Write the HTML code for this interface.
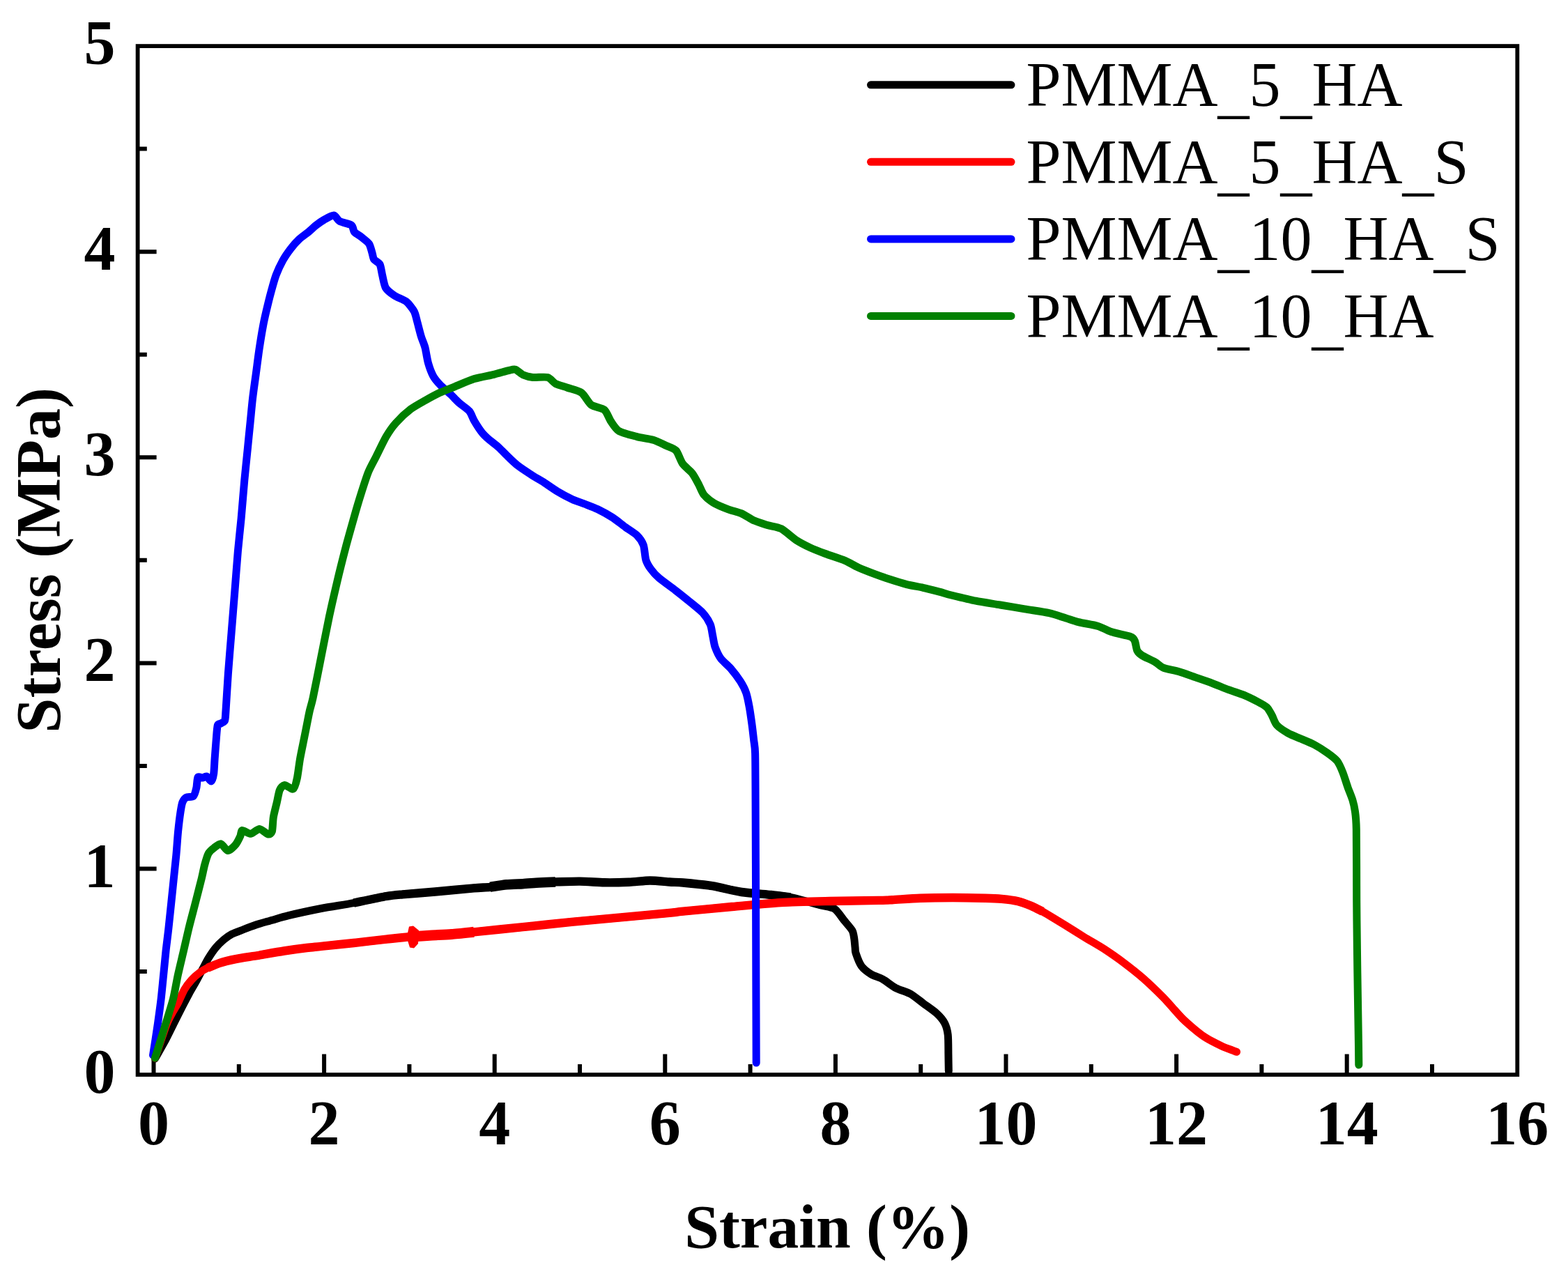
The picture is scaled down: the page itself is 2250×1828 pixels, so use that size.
<!DOCTYPE html>
<html lang="en"><head><meta charset="utf-8"><title>Stress–strain curves</title>
<style>html,body{margin:0;padding:0;background:#fff;}body{width:2250px;height:1828px;overflow:hidden;}svg{display:block;}text{font-family:"Liberation Serif",serif;fill:#000;}.b{font-weight:bold;}</style></head><body>
<svg width="2250" height="1828" viewBox="0 0 2250 1828">
<rect width="2250" height="1828" fill="#fff"/>
<g stroke="#000" stroke-width="6.0" fill="none" stroke-linecap="butt">
<path d="M220.5,1542.0 V1512.4 M342.8,1542.0 V1527.0 M465.1,1542.0 V1512.4 M587.4,1542.0 V1527.0 M709.7,1542.0 V1512.4 M832.0,1542.0 V1527.0 M954.3,1542.0 V1512.4 M1076.6,1542.0 V1527.0 M1198.9,1542.0 V1512.4 M1321.2,1542.0 V1527.0 M1443.5,1542.0 V1512.4 M1565.8,1542.0 V1527.0 M1688.1,1542.0 V1512.4 M1810.4,1542.0 V1527.0 M1932.7,1542.0 V1512.4 M2055.0,1542.0 V1527.0 M197.6,1394.0 H210.8 M197.6,1246.5 H224.6 M197.6,1098.9 H210.8 M197.6,951.4 H224.6 M197.6,803.8 H210.8 M197.6,656.3 H224.6 M197.6,508.7 H210.8 M197.6,361.2 H224.6 M197.6,213.6 H210.8"/>
</g>
<g fill="none" stroke-width="11.0" stroke-linejoin="round" stroke-linecap="round">
<path stroke="#000" d="M222.5,1519.0C224.4,1515.5 234.6,1497.6 238.0,1491.3C241.4,1485.0 246.6,1474.0 249.5,1468.2C252.4,1462.4 258.4,1450.5 261.1,1445.2C263.8,1439.9 269.0,1430.1 271.4,1425.6C273.8,1421.1 278.2,1414.0 280.6,1409.5C283.1,1405.0 288.7,1394.2 291.0,1389.9C293.3,1385.6 296.8,1378.6 299.1,1374.9C301.4,1371.2 306.7,1363.3 309.4,1360.0C312.1,1356.7 318.1,1350.9 321.0,1348.4C323.9,1346.0 328.9,1342.3 332.5,1340.4C336.1,1338.5 345.5,1335.2 349.8,1333.5C354.1,1331.8 362.1,1328.7 367.2,1327.0C372.3,1325.3 384.8,1321.9 390.6,1320.2C396.5,1318.5 405.2,1315.7 414.0,1313.6C422.8,1311.5 449.1,1305.8 460.8,1303.5C472.5,1301.2 495.9,1297.8 507.6,1295.6C519.3,1293.4 545.6,1287.5 554.4,1286.0C563.2,1284.5 569.0,1284.1 577.8,1283.3C586.6,1282.5 611.7,1280.6 624.5,1279.5C637.3,1278.4 670.1,1275.1 680.0,1274.3C689.9,1273.5 697.5,1273.4 703.4,1272.8C709.2,1272.2 720.9,1269.9 726.8,1269.3C732.6,1268.7 744.4,1268.5 750.2,1268.2C756.1,1267.9 767.8,1266.8 773.6,1266.5C779.5,1266.2 789.7,1265.6 797.0,1265.4C804.3,1265.2 823.3,1264.5 832.1,1264.6C840.9,1264.7 858.4,1266.1 867.2,1266.3C876.0,1266.5 894.1,1266.1 902.3,1265.8C910.5,1265.5 925.4,1263.5 932.7,1263.5C940.0,1263.5 954.9,1265.1 960.8,1265.5C966.7,1265.9 972.4,1265.8 980.0,1266.5C987.6,1267.2 1011.5,1269.5 1022.0,1271.2C1032.5,1272.9 1053.7,1278.4 1064.2,1280.0C1074.8,1281.6 1097.6,1283.0 1106.4,1283.9C1115.2,1284.8 1125.6,1285.6 1134.4,1287.4C1143.2,1289.2 1168.6,1296.5 1176.5,1298.6C1184.4,1300.7 1193.2,1301.4 1197.6,1304.2C1202.0,1307.0 1208.4,1317.2 1211.6,1321.1C1214.8,1325.0 1221.1,1331.9 1222.9,1335.1C1224.7,1338.3 1225.2,1343.3 1225.7,1346.4C1226.2,1349.5 1226.8,1357.3 1227.1,1360.0C1227.4,1362.7 1226.9,1364.3 1228.0,1367.6C1229.1,1370.9 1233.4,1382.5 1236.2,1386.3C1239.0,1390.1 1246.4,1395.7 1250.2,1398.0C1254.0,1400.3 1262.2,1402.5 1266.6,1405.0C1271.0,1407.5 1280.3,1415.0 1285.3,1417.6C1290.3,1420.2 1301.3,1423.2 1306.3,1426.0C1311.3,1428.8 1320.4,1436.3 1325.1,1439.8C1329.8,1443.3 1340.0,1450.3 1343.8,1453.8C1347.6,1457.3 1353.5,1464.2 1355.5,1468.0C1357.5,1471.8 1359.5,1479.0 1360.2,1484.6C1360.9,1490.2 1360.8,1506.2 1360.9,1512.7C1361.0,1519.2 1361.2,1534.0 1361.3,1537.0"/>
<path stroke="#000" stroke-width="12.4" stroke-linecap="butt" d="M507.6,1295.6C513.5,1294.4 545.6,1287.5 554.4,1286.0C563.2,1284.5 569.0,1284.1 577.8,1283.3C586.6,1282.5 611.7,1280.6 624.5,1279.5C637.3,1278.4 670.1,1275.1 680.0,1274.3C689.9,1273.5 697.5,1273.4 703.4,1272.8C709.2,1272.2 720.9,1269.9 726.8,1269.3C732.6,1268.7 744.4,1268.5 750.2,1268.2C756.1,1267.9 767.8,1266.8 773.6,1266.5C779.5,1266.2 789.7,1265.6 797.0,1265.4C804.3,1265.2 823.3,1264.5 832.1,1264.6C840.9,1264.7 858.4,1266.1 867.2,1266.3C876.0,1266.5 894.1,1266.1 902.3,1265.8C910.5,1265.5 925.4,1263.5 932.7,1263.5C940.0,1263.5 954.9,1265.1 960.8,1265.5C966.7,1265.9 972.4,1265.8 980.0,1266.5C987.6,1267.2 1011.5,1269.5 1022.0,1271.2C1032.5,1272.9 1053.7,1278.4 1064.2,1280.0C1074.8,1281.6 1097.6,1283.0 1106.4,1283.9C1115.2,1284.8 1130.9,1287.0 1134.4,1287.4"/>
<path stroke="#000" stroke-width="14.5" stroke-linecap="butt" d="M703.4,1272.8C706.3,1272.4 720.9,1269.9 726.8,1269.3C732.6,1268.7 744.4,1268.5 750.2,1268.2C756.1,1267.9 767.8,1266.8 773.6,1266.5C779.5,1266.2 794.1,1265.5 797.0,1265.4"/>
<path stroke="#f00" d="M222.5,1518.0C224.6,1512.0 235.8,1478.2 239.0,1470.0C242.2,1461.8 246.0,1455.8 248.0,1452.0C250.0,1448.2 253.2,1443.4 255.3,1439.4C257.4,1435.4 262.1,1424.1 264.5,1419.9C266.9,1415.7 272.2,1409.0 274.9,1406.0C277.6,1403.0 283.5,1397.9 286.4,1395.7C289.3,1393.5 294.3,1390.5 297.9,1388.8C301.5,1387.1 310.2,1383.4 315.2,1381.8C320.2,1380.2 331.0,1377.5 338.2,1376.1C345.4,1374.7 364.2,1372.0 372.8,1370.5C381.4,1369.0 399.0,1365.8 407.4,1364.5C415.8,1363.2 433.3,1360.8 440.0,1360.0C446.7,1359.2 452.4,1358.7 460.8,1357.8C469.2,1356.9 495.9,1354.3 507.6,1353.0C519.3,1351.7 544.2,1348.8 554.4,1347.7C564.6,1346.6 581.3,1344.7 589.5,1344.0C597.7,1343.3 612.7,1342.4 620.0,1342.0C627.3,1341.6 640.5,1341.1 648.0,1340.5C655.5,1339.9 667.2,1338.6 680.0,1337.3C692.8,1336.0 732.7,1332.0 750.2,1330.2C767.8,1328.4 802.9,1324.5 820.4,1322.8C837.9,1321.1 873.1,1318.0 890.6,1316.4C908.1,1314.8 949.6,1311.0 960.8,1309.9C972.0,1308.8 968.8,1308.8 980.0,1307.7C991.2,1306.6 1032.7,1302.6 1050.2,1301.0C1067.8,1299.4 1102.9,1296.1 1120.4,1295.1C1138.0,1294.1 1173.0,1293.4 1190.6,1293.0C1208.1,1292.6 1249.6,1292.1 1260.8,1291.9C1272.0,1291.7 1272.5,1291.6 1280.0,1291.2C1287.5,1290.8 1309.5,1289.1 1320.4,1288.7C1331.3,1288.3 1355.5,1288.0 1367.2,1288.0C1378.9,1288.0 1405.2,1288.5 1414.0,1288.7C1422.8,1288.9 1431.6,1289.3 1437.4,1289.9C1443.2,1290.5 1455.5,1292.0 1460.8,1293.2C1466.1,1294.4 1475.1,1297.9 1479.5,1299.7C1483.9,1301.5 1489.8,1304.5 1495.9,1307.9C1502.0,1311.4 1520.6,1322.7 1528.1,1327.3C1535.6,1331.9 1549.2,1340.5 1556.2,1344.8C1563.2,1349.1 1577.4,1357.1 1584.4,1361.7C1591.4,1366.3 1605.5,1376.1 1612.5,1381.4C1619.5,1386.7 1633.6,1397.8 1640.6,1403.9C1647.6,1410.1 1663.4,1425.3 1668.7,1430.6C1674.0,1435.9 1679.3,1442.2 1682.8,1446.1C1686.3,1450.0 1693.3,1458.0 1696.8,1461.5C1700.3,1465.0 1707.4,1471.2 1710.9,1474.2C1714.4,1477.2 1721.5,1482.9 1725.0,1485.4C1728.5,1487.9 1735.5,1492.0 1739.0,1493.9C1742.5,1495.8 1749.6,1499.3 1753.1,1500.9C1756.6,1502.5 1764.4,1505.5 1767.1,1506.5C1769.8,1507.5 1773.6,1509.0 1774.5,1509.3"/>
<path stroke="#f00" stroke-width="12.4" stroke-linecap="butt" d="M297.9,1388.8C300.1,1387.9 310.2,1383.4 315.2,1381.8C320.2,1380.2 331.0,1377.5 338.2,1376.1C345.4,1374.7 364.2,1372.0 372.8,1370.5C381.4,1369.0 399.0,1365.8 407.4,1364.5C415.8,1363.2 433.3,1360.8 440.0,1360.0C446.7,1359.2 452.4,1358.7 460.8,1357.8C469.2,1356.9 495.9,1354.3 507.6,1353.0C519.3,1351.7 544.2,1348.8 554.4,1347.7C564.6,1346.6 581.3,1344.7 589.5,1344.0C597.7,1343.3 612.7,1342.4 620.0,1342.0C627.3,1341.6 640.5,1341.1 648.0,1340.5C655.5,1339.9 667.2,1338.6 680.0,1337.3C692.8,1336.0 732.7,1332.0 750.2,1330.2C767.8,1328.4 802.9,1324.5 820.4,1322.8C837.9,1321.1 873.1,1318.0 890.6,1316.4C908.1,1314.8 949.6,1311.0 960.8,1309.9C972.0,1308.8 968.8,1308.8 980.0,1307.7C991.2,1306.6 1032.7,1302.6 1050.2,1301.0C1067.8,1299.4 1102.9,1296.1 1120.4,1295.1C1138.0,1294.1 1173.0,1293.4 1190.6,1293.0C1208.1,1292.6 1249.6,1292.1 1260.8,1291.9C1272.0,1291.7 1272.5,1291.6 1280.0,1291.2C1287.5,1290.8 1309.5,1289.1 1320.4,1288.7C1331.3,1288.3 1355.5,1288.0 1367.2,1288.0C1378.9,1288.0 1405.2,1288.5 1414.0,1288.7C1422.8,1288.9 1431.6,1289.3 1437.4,1289.9C1443.2,1290.5 1455.5,1292.0 1460.8,1293.2C1466.1,1294.4 1475.1,1297.9 1479.5,1299.7C1483.9,1301.5 1493.9,1306.9 1495.9,1307.9"/>
<path stroke="#f00" stroke-width="15" stroke-linecap="butt" d="M589.5,1344.0C593.3,1343.8 612.7,1342.4 620.0,1342.0C627.3,1341.6 640.5,1341.1 648.0,1340.5C655.5,1339.9 676.0,1337.7 680.0,1337.3"/>
<path fill="#f00" stroke="none" d="M583.5,1345 L587,1329.5 L593,1328.5 L601,1335 L600,1354 L594,1360.5 L588,1359.5 Z"/>
<path stroke="#00f" d="M219.5,1514.0C220.4,1508.3 225.1,1478.2 226.5,1468.2C227.9,1458.2 230.1,1442.3 231.1,1433.7C232.1,1425.1 233.7,1407.7 234.6,1399.1C235.5,1390.5 237.1,1373.2 238.0,1364.6C238.9,1356.0 240.7,1343.1 242.1,1330.0C243.5,1316.9 248.1,1272.8 249.4,1260.0C250.7,1247.2 252.0,1235.8 252.8,1227.4C253.6,1219.0 254.8,1200.6 255.6,1192.8C256.4,1185.0 258.2,1170.4 259.0,1165.2C259.8,1160.0 260.8,1153.9 261.8,1151.3C262.8,1148.7 265.0,1145.3 267.0,1144.2C269.0,1143.1 275.6,1144.2 277.5,1142.5C279.4,1140.8 281.0,1134.0 281.8,1130.6C282.6,1127.2 282.8,1117.2 283.9,1115.4C285.0,1113.6 289.2,1116.3 290.8,1116.1C292.4,1115.9 294.8,1113.4 296.4,1114.0C298.0,1114.6 302.0,1121.4 303.3,1120.9C304.6,1120.4 306.1,1113.9 306.7,1109.9C307.3,1105.9 307.7,1095.1 308.1,1089.1C308.5,1083.0 309.7,1067.5 310.2,1061.5C310.7,1055.5 311.4,1043.6 312.3,1040.7C313.2,1037.8 315.8,1038.9 317.1,1038.0C318.4,1037.1 321.7,1036.0 322.6,1033.8C323.5,1031.5 323.4,1028.4 324.0,1020.0C324.6,1011.6 326.4,980.3 327.4,966.3C328.4,952.3 330.9,922.4 332.1,907.8C333.3,893.2 335.6,863.9 336.8,849.3C338.0,834.7 340.2,804.0 341.4,790.8C342.6,777.6 344.9,756.7 346.1,744.0C347.3,731.3 349.6,701.7 350.8,689.0C352.0,676.3 354.5,652.4 355.5,642.2C356.5,632.0 358.1,615.9 359.0,607.1C359.9,598.3 361.5,580.8 362.5,572.0C363.5,563.2 366.0,545.7 367.2,536.9C368.4,528.1 370.6,510.6 371.9,501.8C373.2,493.0 376.4,473.6 377.7,466.7C379.0,459.8 380.6,452.8 382.0,446.8C383.4,440.8 387.2,425.2 389.0,418.7C390.8,412.2 394.0,400.4 396.1,394.8C398.2,389.2 403.3,378.4 405.9,373.7C408.5,368.9 414.2,360.7 417.2,356.8C420.2,352.9 426.6,345.8 429.8,342.8C433.0,339.8 439.5,335.4 442.5,332.9C445.5,330.4 450.9,325.3 453.7,323.1C456.5,320.9 461.8,317.2 465.0,315.4C468.2,313.6 476.2,308.7 479.0,309.0C481.8,309.3 484.3,315.7 487.5,317.5C490.7,319.3 501.7,321.2 504.3,323.1C506.9,325.0 506.7,330.8 508.5,332.9C510.3,335.0 515.8,337.9 518.4,340.0C521.0,342.1 527.7,347.0 529.6,349.8C531.5,352.6 533.0,359.7 533.9,362.5C534.8,365.3 535.3,370.2 536.7,372.3C538.1,374.4 543.6,376.5 545.1,379.3C546.6,382.1 547.6,390.6 548.6,394.8C549.6,399.0 551.3,409.4 553.5,413.1C555.7,416.8 562.5,421.8 566.2,424.3C569.9,426.8 579.6,430.0 583.1,432.8C586.6,435.6 592.4,443.3 594.3,446.8C596.2,450.3 597.3,456.5 598.5,460.9C599.7,465.3 602.9,477.9 604.1,482.0C605.3,486.1 607.6,491.6 608.4,493.9C609.2,496.1 609.5,496.6 610.3,500.0C611.1,503.4 613.1,516.2 614.5,521.1C615.9,526.0 619.4,535.5 621.5,539.4C623.6,543.3 628.2,548.7 631.4,552.0C634.6,555.3 643.3,562.8 646.8,566.1C650.3,569.4 656.1,575.7 659.5,578.7C662.9,581.7 671.0,586.8 673.6,590.0C676.2,593.2 678.3,600.1 680.6,604.0C682.9,607.9 689.2,617.6 691.8,620.9C694.4,624.2 698.7,628.1 701.7,630.7C704.7,633.3 712.2,638.8 715.7,642.0C719.2,645.2 726.3,652.7 729.8,656.0C733.3,659.3 739.5,665.4 743.9,668.7C748.3,672.1 760.5,680.0 764.9,682.8C769.3,685.6 774.6,688.4 779.0,691.2C783.4,694.0 794.8,702.1 800.1,705.3C805.4,708.5 816.2,714.2 821.2,716.5C826.2,718.8 835.4,721.7 840.0,723.5C844.6,725.3 852.9,728.4 857.8,730.8C862.7,733.2 873.9,739.3 878.9,742.5C883.9,745.7 893.2,753.3 897.6,756.5C902.0,759.7 910.8,765.0 914.0,768.2C917.2,771.4 921.7,777.8 923.3,782.2C924.9,786.6 925.5,799.0 926.8,803.3C928.1,807.6 931.5,813.2 933.8,816.4C936.1,819.6 941.1,825.4 945.5,829.2C949.9,833.0 963.0,842.3 968.9,846.8C974.8,851.3 987.3,861.4 992.3,865.5C997.3,869.6 1005.3,875.8 1008.7,879.6C1012.1,883.4 1017.5,891.8 1019.2,895.9C1021.0,900.0 1021.8,908.2 1022.7,912.3C1023.6,916.4 1024.7,924.6 1026.2,928.7C1027.7,932.8 1031.6,941.3 1034.4,945.1C1037.2,948.9 1045.0,955.0 1048.5,959.1C1052.0,963.2 1059.7,973.4 1062.5,977.8C1065.3,982.2 1069.1,989.5 1070.7,994.2C1072.3,998.9 1074.4,1009.7 1075.4,1015.3C1076.4,1020.9 1078.1,1032.9 1078.9,1038.7C1079.7,1044.5 1081.1,1056.8 1081.7,1062.1C1082.3,1067.4 1083.3,1069.8 1083.6,1080.8C1083.9,1091.8 1084.0,1122.6 1084.1,1150.0C1084.2,1177.4 1084.5,1253.1 1084.6,1300.0C1084.7,1346.9 1085.1,1496.9 1085.2,1525.0"/>
<path stroke="#008000" d="M222.5,1518.0C224.4,1511.8 234.8,1478.7 238.0,1468.2C241.2,1457.7 246.2,1442.3 248.4,1433.7C250.6,1425.1 253.4,1407.7 255.3,1399.1C257.2,1390.5 261.4,1373.2 263.4,1364.6C265.4,1356.0 269.2,1339.0 271.4,1330.0C273.6,1321.0 278.8,1301.8 281.0,1293.0C283.2,1284.2 287.8,1266.5 289.4,1260.0C291.0,1253.5 292.4,1245.6 293.6,1241.2C294.8,1236.8 297.4,1227.7 299.1,1224.6C300.8,1221.5 305.1,1218.0 307.4,1216.3C309.6,1214.6 314.7,1210.3 317.1,1210.8C319.5,1211.3 324.2,1220.3 326.8,1220.5C329.4,1220.7 335.6,1214.8 337.8,1212.2C340.1,1209.6 343.6,1202.3 344.8,1199.7C346.0,1197.1 345.6,1191.8 347.5,1191.4C349.4,1191.0 356.9,1196.5 360.0,1196.3C363.1,1196.0 369.3,1189.3 372.4,1189.4C375.5,1189.5 382.6,1196.6 384.8,1197.0C387.1,1197.4 389.4,1195.9 390.4,1192.8C391.3,1189.7 391.5,1177.3 392.4,1172.1C393.3,1166.9 396.2,1156.1 397.3,1151.3C398.4,1146.5 400.0,1136.5 401.4,1133.4C402.8,1130.3 405.9,1126.7 408.3,1126.5C410.7,1126.3 418.6,1133.2 420.8,1132.0C423.1,1130.8 425.1,1122.2 426.3,1116.8C427.5,1111.4 429.3,1096.0 430.5,1089.1C431.7,1082.2 434.6,1068.4 436.0,1061.5C437.4,1054.6 440.5,1039.0 441.5,1033.8C442.5,1028.6 443.4,1024.0 444.3,1020.0C445.2,1016.0 447.0,1011.0 449.1,1001.4C451.2,991.8 457.9,957.5 460.8,942.9C463.7,928.3 469.6,898.1 472.5,884.4C475.4,870.6 481.3,845.2 484.2,832.9C487.1,820.6 493.0,797.2 495.9,786.1C498.8,775.0 505.0,753.2 507.6,744.0C510.2,734.8 514.3,720.7 516.9,712.4C519.5,704.1 525.7,684.5 528.6,677.3C531.5,670.1 536.8,661.0 540.0,654.6C543.2,648.2 550.6,632.5 554.1,626.5C557.6,620.5 563.7,611.7 568.1,606.8C572.5,601.9 583.9,591.2 589.2,587.2C594.5,583.2 605.0,577.5 610.3,574.5C615.6,571.5 626.1,565.8 631.4,563.3C636.7,560.8 646.4,557.3 652.5,554.8C658.6,552.3 673.6,545.8 680.6,543.6C687.6,541.4 702.6,538.8 708.7,537.3C714.9,535.8 725.9,532.5 729.8,531.6C733.7,530.7 737.0,529.4 739.6,530.2C742.2,531.0 747.7,536.6 750.9,538.0C754.1,539.4 760.5,541.1 764.9,541.5C769.3,541.9 782.0,540.4 786.0,541.5C790.0,542.6 793.8,548.8 797.3,550.6C800.8,552.4 809.5,554.6 814.1,556.2C818.7,557.8 830.1,560.4 834.4,563.5C838.7,566.6 844.4,577.9 848.5,581.0C852.6,584.1 863.7,585.1 867.2,588.0C870.7,590.9 873.9,600.6 876.5,604.4C879.1,608.2 883.5,615.7 888.2,618.5C892.9,621.3 907.9,625.0 914.0,626.6C920.1,628.2 932.1,629.7 937.4,631.3C942.7,632.9 952.0,637.6 956.1,639.5C960.2,641.4 967.2,643.3 970.1,646.5C973.0,649.7 976.6,661.2 979.5,665.3C982.4,669.4 990.6,675.5 993.5,679.3C996.4,683.1 1000.9,691.9 1002.9,695.7C1004.9,699.5 1007.3,706.5 1009.9,709.7C1012.5,712.9 1019.5,718.8 1023.9,721.4C1028.3,724.0 1040.0,728.9 1045.0,730.8C1050.0,732.7 1059.0,734.6 1063.7,736.6C1068.4,738.6 1077.7,745.0 1082.4,747.1C1087.1,749.2 1096.4,752.0 1101.2,753.5C1106.0,755.0 1116.0,756.0 1121.1,758.7C1126.2,761.4 1136.9,771.4 1142.2,774.8C1147.5,778.2 1158.0,783.6 1163.3,786.1C1168.6,788.6 1178.2,792.2 1184.4,794.5C1190.6,796.8 1206.7,802.0 1212.5,804.4C1218.3,806.8 1225.8,811.6 1231.0,814.0C1236.2,816.4 1248.6,821.2 1254.4,823.4C1260.2,825.6 1272.0,829.7 1277.8,831.6C1283.6,833.5 1295.4,837.1 1301.2,838.6C1307.0,840.1 1318.8,842.0 1324.6,843.3C1330.4,844.6 1342.9,847.8 1348.0,849.1C1353.1,850.4 1358.6,852.4 1365.1,854.0C1371.6,855.6 1391.4,860.5 1400.2,862.2C1409.0,864.0 1426.5,866.5 1435.3,868.0C1444.1,869.5 1461.6,872.4 1470.4,873.9C1479.2,875.4 1498.2,878.1 1505.5,879.7C1512.8,881.3 1523.6,885.1 1528.9,886.7C1534.2,888.3 1541.8,891.1 1547.6,892.6C1553.4,894.1 1569.8,896.6 1575.7,898.4C1581.6,900.1 1588.6,904.7 1594.4,906.6C1600.2,908.5 1618.3,912.0 1622.5,913.6C1626.7,915.2 1627.1,917.0 1628.3,919.5C1629.5,922.0 1630.5,930.9 1631.8,933.5C1633.1,936.1 1635.6,938.5 1638.8,940.5C1642.0,942.5 1653.8,947.7 1657.6,949.9C1661.4,952.1 1664.9,956.4 1669.3,958.1C1673.7,959.9 1686.9,962.1 1692.7,963.9C1698.5,965.6 1710.2,970.1 1716.1,972.1C1721.9,974.1 1733.7,978.1 1739.5,980.3C1745.3,982.5 1757.1,987.5 1762.9,989.7C1768.8,991.9 1781.0,995.7 1786.3,997.9C1791.6,1000.1 1801.0,1004.9 1805.0,1007.0C1809.0,1009.1 1815.5,1012.6 1818.0,1015.0C1820.5,1017.4 1823.3,1023.1 1825.1,1026.3C1826.9,1029.5 1829.2,1037.2 1832.1,1040.4C1835.0,1043.6 1844.1,1049.6 1848.5,1052.1C1852.9,1054.6 1862.5,1058.2 1867.2,1060.3C1871.9,1062.3 1881.2,1066.0 1885.9,1068.5C1890.6,1071.0 1900.5,1077.3 1904.6,1080.2C1908.7,1083.1 1915.9,1088.4 1918.7,1091.9C1921.5,1095.4 1924.9,1103.5 1926.8,1108.2C1928.7,1112.9 1932.1,1124.3 1933.9,1129.3C1935.7,1134.3 1939.6,1143.7 1940.9,1148.0C1942.2,1152.3 1943.7,1158.8 1944.4,1164.0C1945.1,1169.2 1946.0,1174.2 1946.3,1190.0C1946.6,1205.8 1946.6,1269.1 1946.7,1290.4C1946.8,1311.7 1947.2,1343.0 1947.4,1360.6C1947.6,1378.1 1948.1,1413.2 1948.4,1430.8C1948.7,1448.3 1949.3,1488.8 1949.5,1501.0C1949.7,1513.2 1949.8,1524.6 1949.8,1528.0"/>
</g>
<rect x="197.6" y="66.1" width="1979.7" height="1475.9" fill="none" stroke="#000" stroke-width="5.8"/>
<g class="b" font-size="90" text-anchor="middle">
<text x="220.5" y="1642">0</text>
<text x="465.1" y="1642">2</text>
<text x="709.7" y="1642">4</text>
<text x="954.3" y="1642">6</text>
<text x="1198.9" y="1642">8</text>
<text x="1443.5" y="1642">10</text>
<text x="1688.1" y="1642">12</text>
<text x="1932.7" y="1642">14</text>
<text x="2177.3" y="1642">16</text>
</g>
<g class="b" font-size="90" text-anchor="end">
<text x="165.6" y="1567.6">0</text>
<text x="165.6" y="1272.5">1</text>
<text x="165.6" y="977.4">2</text>
<text x="165.6" y="682.3">3</text>
<text x="165.6" y="387.2">4</text>
<text x="165.6" y="92.1">5</text>
</g>
<text class="b" font-size="89.4" text-anchor="middle" x="1187.2" y="1789.5">Strain (%)</text>
<text class="b" font-size="90" text-anchor="middle" transform="translate(85.5,803.8) rotate(-90)">Stress (MPa)</text>
<g stroke-width="11" stroke-linecap="round" fill="none">
<path stroke="#000" d="M1249.5,121.8 H1451"/>
<path stroke="#f00" d="M1249.5,232.3 H1451"/>
<path stroke="#00f" d="M1249.5,342.9 H1451"/>
<path stroke="#008000" d="M1249.5,453.4 H1451"/>
</g>
<g font-size="90">
<text x="1472.4" y="152.0" dy="0 0 0 0 7 -7 7 -7 0">PMMA_5_HA</text>
<text x="1472.4" y="262.5" dy="0 0 0 0 7 -7 7 -7 0 7 -7">PMMA_5_HA_S</text>
<text x="1472.4" y="373.1" dy="0 0 0 0 7 -7 0 7 -7 0 7 -7">PMMA_10_HA_S</text>
<text x="1472.4" y="483.6" dy="0 0 0 0 7 -7 0 7 -7 0">PMMA_10_HA</text>
</g>
</svg></body></html>
